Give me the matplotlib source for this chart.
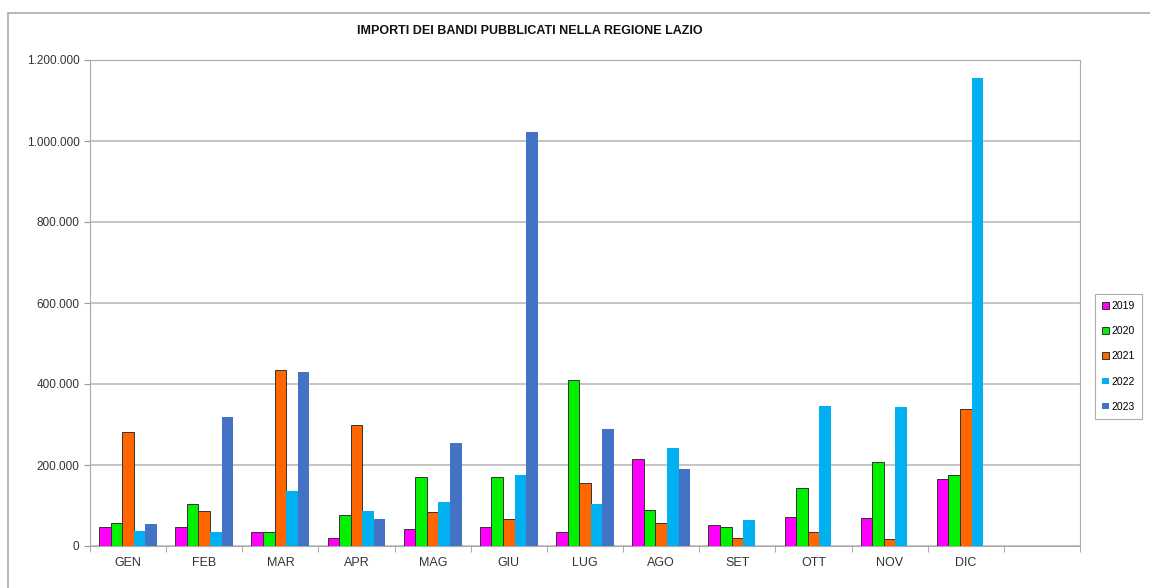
import matplotlib
matplotlib.use("Agg")
import matplotlib.pyplot as plt
import numpy as np
from matplotlib.ticker import FuncFormatter, FixedLocator
from matplotlib.patches import Rectangle

plt.rcParams["font.family"] = ["Liberation Sans", "DejaVu Sans"]

months = ["GEN", "FEB", "MAR", "APR", "MAG", "GIU", "LUG", "AGO", "SET", "OTT", "NOV", "DIC", ""]
years = ["2019", "2020", "2021", "2022", "2023"]

v2019 = [48000, 46000, 35000, 19000, 42000, 46000, 35000, 215000, 52000, 71000, 68000, 165000, 0]
v2020 = [58000, 104000, 35000, 77000, 170000, 170000, 410000, 89000, 46000, 142000, 208000, 175000, 0]
v2021 = [282000, 86000, 435000, 300000, 85000, 67000, 156000, 58000, 19000, 35000, 17000, 338000, 0]
v2022 = [38000, 35000, 136000, 87000, 109000, 175000, 104000, 243000, 64000, 346000, 344000, 1156000, 0]
v2023 = [54000, 319000, 430000, 66000, 255000, 1021000, 288000, 189000, 0, 0, 0, 0, 0]
series = [v2019, v2020, v2021, v2022, v2023]

colors = ["#FF00FF", "#00F000", "#FF6600", "#00B0F0", "#4472C4"]
edges = ["#333333", "#333333", "#333333", "none", "none"]

fig = plt.figure(figsize=(11.5, 5.88), dpi=100)
ax = fig.add_axes([90 / 1150, 42 / 588, 990 / 1150, 486 / 588])

x = np.arange(len(months))
width = 0.152
for i, (vals, yr) in enumerate(zip(series, years)):
    offset = (i - 2) * width
    ax.bar(x + offset, vals, width, color=colors[i], edgecolor=edges[i],
           linewidth=0.7, label=yr, zorder=3)

ax.set_xlim(-0.5, len(months) - 0.5)
ax.set_ylim(0, 1200000)
ax.set_yticks(np.arange(0, 1200001, 200000))
ax.yaxis.set_major_formatter(FuncFormatter(lambda v, p: f"{int(v):,}".replace(",", ".")))
ax.set_xticks(x)
ax.set_xticklabels(months)
ax.xaxis.set_minor_locator(FixedLocator(np.arange(-0.5, len(months), 1)))
ax.tick_params(axis="x", which="major", length=0, pad=8, labelsize=9, colors="#333333")
ax.tick_params(axis="x", which="minor", length=4, color="#999999")
ax.tick_params(axis="y", length=4, color="#999999", labelsize=8.5, colors="#333333")
ax.grid(axis="y", color="#BBBBBB", linewidth=1.2, zorder=0)
for s in ax.spines.values():
    s.set_color("#AAAAAA")

fig.text(530 / 1150, 1 - 31 / 588, "IMPORTI DEI BANDI PUBBLICATI NELLA REGIONE LAZIO",
         ha="center", va="center", fontsize=9, fontweight="bold", color="#111111")

leg = ax.legend(loc="center left", bbox_to_anchor=(1.01, 0.39), fontsize=7.5,
                handlelength=0.6, handleheight=0.6, handletextpad=0.3,
                labelspacing=1.45, borderpad=0.7, frameon=True, fancybox=False)
leg.get_frame().set_edgecolor("#999999")
leg.get_frame().set_linewidth(0.8)

fig.patches.append(Rectangle((8 / 1150, -0.01), 1.2, 1 - 13 / 588 + 0.01,
                             transform=fig.transFigure, fill=False,
                             edgecolor="#AAAAAA", linewidth=1.2))

fig.savefig("out.png", dpi=100)
